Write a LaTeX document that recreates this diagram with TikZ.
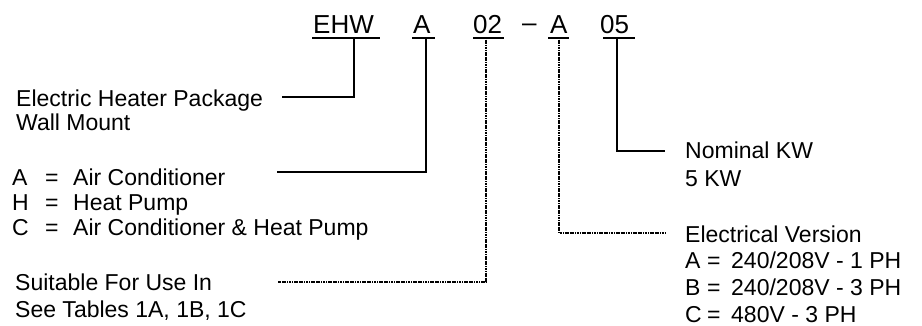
\documentclass[tikz,border=0pt]{standalone}
\usepackage{fontspec}
\setmainfont{Liberation Sans}
\begin{document}
\begin{tikzpicture}[x=1pt,y=-1pt,
  lbl/.style={anchor=base west,inner sep=0pt,font=\fontsize{23}{25}\selectfont},
  code/.style={anchor=base west,inner sep=0pt,font=\fontsize{26}{28}\selectfont},
  uline/.style={line width=2.5pt},
  solidlead/.style={line width=2pt},
  dotlead/.style={line width=1.8pt,dash pattern=on 1.2pt off 0.5pt}]
\useasboundingbox (0,0) rectangle (922,325);

% model code
\node[code] (ehw) at (313,33) {EHW};
\node[code] (ca)  at (413,33) {A};
\node[code] (c02) at (473,33) {02};
\node[code] (dsh) at (522,31) {--};
\node[code] (ca2) at (550,33) {A};
\node[code] (c05) at (600,33) {05};

% underlines
\draw[uline] (312,38) -- (380,38);
\draw[uline] (412,38) -- (435,38);
\draw[uline] (473,38) -- (504,38);
\draw[uline] (548,38) -- (569,38);
\draw[uline] (603,38) -- (635,38);

% left labels
\node[lbl] (pkg)  at (16,106) {Electric Heater Package};
\node[lbl] (wall) at (16,130) {Wall Mount};
\node[lbl] (la)   at (12,185) {A};
\node[lbl] (lae)  at (45,185) {=};
\node[lbl] (lat)  at (73,185) {Air Conditioner};
\node[lbl] (lh)   at (12,210) {H};
\node[lbl] (lhe)  at (45,210) {=};
\node[lbl] (lht)  at (73,210) {Heat Pump};
\node[lbl] (lc)   at (12,235) {C};
\node[lbl] (lce)  at (45,235) {=};
\node[lbl] (lct)  at (73,235) {Air Conditioner \& Heat Pump};
\node[lbl] (suit) at (15,290) {Suitable For Use In};
\node[lbl] (tabs) at (15,317) {See Tables 1A, 1B, 1C};

% right labels
\node[lbl] (nom)  at (685,158) {Nominal KW};
\node[lbl] (kw)   at (685,186) {5 KW};
\node[lbl] (elv)  at (685,242) {Electrical Version};
\node[lbl] (ra)   at (685,268) {A};
\node[lbl] (rae)  at (707,268) {=};
\node[lbl] (rat)  at (731,268) {240/208V - 1 PH};
\node[lbl] (rb)   at (685,295) {B};
\node[lbl] (rbe)  at (707,295) {=};
\node[lbl] (rbt)  at (731,295) {240/208V - 3 PH};
\node[lbl] (rc)   at (685,322) {C};
\node[lbl] (rce)  at (707,322) {=};
\node[lbl] (rct)  at (731,322) {480V - 3 PH};

% connector anchor points
\coordinate (s1) at (354,38);  \coordinate (e1) at (282,97);
\coordinate (s2) at (426,38);  \coordinate (e2) at (277,172);
\coordinate (s3) at (486,38);  \coordinate (e3) at (278,282);
\coordinate (s4) at (559,38);  \coordinate (e4) at (665,233);
\coordinate (s5) at (617,38);  \coordinate (e5) at (665,151);

\draw[solidlead] (s1) |- (e1);
\draw[solidlead,line width=2.4pt] (s2) |- (e2);
\draw[dotlead] (s3) |- (e3);
\draw[dotlead] (s4) |- (e4);
\draw[solidlead] (s5) |- (e5);
\end{tikzpicture}
\end{document}
